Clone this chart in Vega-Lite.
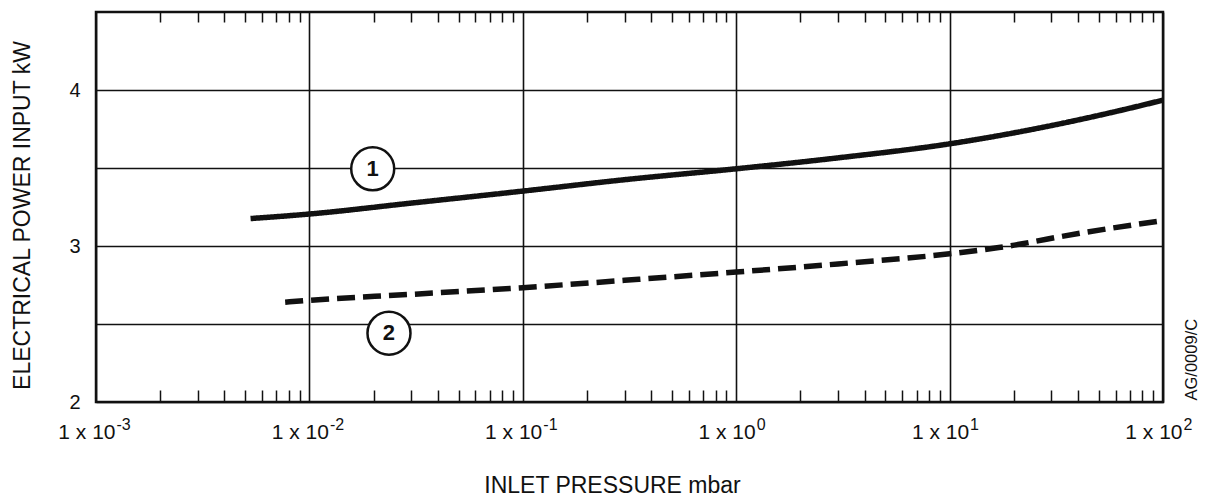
{
  "$schema": "https://vega.github.io/schema/vega-lite/v6.json",
  "width": 1067,
  "height": 390,
  "autosize": {"type": "none"},
  "padding": {"left": 96, "top": 12, "right": 47, "bottom": 98},
  "background": "white",
  "config": {
    "font": "Liberation Sans",
    "view": {"stroke": "#111", "strokeWidth": 2.5},
    "axis": {
      "labelColor": "#111",
      "titleColor": "#111",
      "gridColor": "#111",
      "gridOpacity": 1,
      "gridWidth": 1.6,
      "tickColor": "#111",
      "titleFontWeight": "normal",
      "labelFont": "Liberation Sans",
      "titleFont": "Liberation Sans"
    }
  },
  "datasets": {
    "curves": [
      {"series": "1", "x": 0.0053, "y": 3.176},
      {"series": "1", "x": 0.01, "y": 3.205},
      {"series": "1", "x": 0.03, "y": 3.275},
      {"series": "1", "x": 0.1, "y": 3.352},
      {"series": "1", "x": 0.3, "y": 3.425},
      {"series": "1", "x": 1, "y": 3.495},
      {"series": "1", "x": 3, "y": 3.565},
      {"series": "1", "x": 10, "y": 3.655},
      {"series": "1", "x": 30, "y": 3.772},
      {"series": "1", "x": 60, "y": 3.862},
      {"series": "1", "x": 100, "y": 3.935},
      {"series": "2", "x": 0.0077, "y": 2.64},
      {"series": "2", "x": 0.01, "y": 2.652},
      {"series": "2", "x": 0.03, "y": 2.69},
      {"series": "2", "x": 0.1, "y": 2.733},
      {"series": "2", "x": 0.3, "y": 2.78},
      {"series": "2", "x": 1, "y": 2.833},
      {"series": "2", "x": 3, "y": 2.885},
      {"series": "2", "x": 10, "y": 2.95},
      {"series": "2", "x": 17, "y": 2.99},
      {"series": "2", "x": 42, "y": 3.085},
      {"series": "2", "x": 100, "y": 3.163}
    ],
    "callouts": [
      {"label": "1", "x": 0.0198, "y": 3.495},
      {"label": "2", "x": 0.0236, "y": 2.441}
    ]
  },
  "resolve": {"axis": {"x": "independent", "y": "independent"}},
  "layer": [
    {
      "data": {"name": "curves"},
      "mark": {"type": "line", "strokeWidth": 5.5, "color": "#111", "interpolate": "monotone", "strokeCap": "butt"},
      "encoding": {
        "x": {
          "field": "x", "type": "quantitative",
          "scale": {"type": "log", "domain": [0.001, 100], "nice": false},
          "axis": {
            "orient": "bottom",
            "values": [0.001, 0.01, 0.1, 1, 10, 100],
            "grid": true,
            "ticks": false,
            "tickSize": 0,
            "domain": false,
            "labelExpr": "'1 x 10'",
            "labelAlign": "right",
            "labelOffset": 19,
            "labelFlush": false,
            "labelOverlap": false,
            "labelPadding": 36,
            "labelBaseline": "alphabetic",
            "labelFontSize": 21,
            "title": "INLET PRESSURE mbar",
            "titleFontSize": 23,
            "titleX": 516,
            "titleY": 90,
            "titleAlign": "center",
            "titleBaseline": "alphabetic"
          }
        },
        "y": {
          "field": "y", "type": "quantitative",
          "scale": {"domain": [2, 4.5], "nice": false, "zero": false},
          "axis": {
            "orient": "left",
            "values": [2, 2.5, 3, 3.5, 4],
            "grid": true,
            "ticks": false,
            "tickSize": 0,
            "domain": false,
            "labelExpr": "datum.value % 1 == 0 ? format(datum.value, 'd') : ''",
            "labelPadding": 16,
            "labelFontSize": 20,
            "title": "ELECTRICAL POWER INPUT kW",
            "titleFontSize": 23,
            "titleAngle": 270,
            "titleX": -74,
            "titleY": 203,
            "titleAlign": "center",
            "titleBaseline": "middle"
          }
        },
        "detail": {"field": "series"},
        "strokeDash": {
          "field": "series", "type": "nominal",
          "scale": {"domain": ["1", "2"], "range": [[1, 0], [18, 8]]},
          "legend": null
        }
      }
    },
    {
      "data": {"name": "curves"},
      "mark": {"type": "point", "opacity": 0},
      "encoding": {
        "x": {
          "field": "x", "type": "quantitative",
          "scale": {"type": "log", "domain": [0.001, 100], "nice": false},
          "axis": {
            "orient": "bottom",
            "values": [0.001, 0.01, 0.1, 1, 10, 100],
            "grid": false,
            "ticks": false,
            "tickSize": 0,
            "domain": false,
            "labelExpr": "['-3','-2','-1','0','1','2'][round(log(datum.value)/LN10)+3]",
            "labelAlign": "left",
            "labelOffset": 20,
            "labelFlush": false,
            "labelOverlap": false,
            "labelPadding": 27,
            "labelBaseline": "alphabetic",
            "labelFontSize": 16,
            "title": null
          }
        },
        "y": {
          "field": "y", "type": "quantitative",
          "scale": {"domain": [2, 4.5], "nice": false, "zero": false},
          "axis": {
            "orient": "right",
            "labels": false,
            "ticks": false,
            "domain": false,
            "grid": false,
            "title": "AG/0009/C",
            "titleFontSize": 16.5,
            "titleAngle": 270,
            "titleX": 28,
            "titleY": 388,
            "titleAlign": "left",
            "titleBaseline": "middle"
          }
        }
      }
    },
    {
      "data": {"name": "curves"},
      "mark": {"type": "point", "opacity": 0},
      "encoding": {
        "x": {
          "field": "x", "type": "quantitative",
          "scale": {"type": "log", "domain": [0.001, 100], "nice": false},
          "axis": {
            "orient": "bottom",
            "values": [0.002,0.003,0.004,0.005,0.006,0.007,0.008,0.009,0.02,0.03,0.04,0.05,0.06,0.07,0.08,0.09,0.2,0.3,0.4,0.5,0.6,0.7,0.8,0.9,2,3,4,5,6,7,8,9,20,30,40,50,60,70,80,90],
            "grid": false,
            "labels": false,
            "domain": false,
            "ticks": true,
            "tickSize": -12,
            "tickWidth": 1.5,
            "title": null
          }
        },
        "y": {
          "field": "y", "type": "quantitative",
          "scale": {"domain": [2, 4.5], "nice": false, "zero": false},
          "axis": null
        }
      }
    },
    {
      "data": {"name": "curves"},
      "mark": {"type": "point", "opacity": 0},
      "encoding": {
        "x": {
          "field": "x", "type": "quantitative",
          "scale": {"type": "log", "domain": [0.001, 100], "nice": false},
          "axis": {
            "orient": "top",
            "values": [0.002,0.003,0.004,0.005,0.006,0.007,0.008,0.009,0.02,0.03,0.04,0.05,0.06,0.07,0.08,0.09,0.2,0.3,0.4,0.5,0.6,0.7,0.8,0.9,2,3,4,5,6,7,8,9,20,30,40,50,60,70,80,90],
            "grid": false,
            "labels": false,
            "domain": false,
            "ticks": true,
            "tickSize": -10,
            "tickWidth": 1.5,
            "title": null
          }
        },
        "y": {
          "field": "y", "type": "quantitative",
          "scale": {"domain": [2, 4.5], "nice": false, "zero": false},
          "axis": null
        }
      }
    },
    {
      "data": {"name": "callouts"},
      "mark": {"type": "point", "shape": "circle", "size": 1850, "filled": true, "fill": "white", "stroke": "#111", "strokeWidth": 2.5, "opacity": 1},
      "encoding": {
        "x": {"field": "x", "type": "quantitative", "scale": {"type": "log", "domain": [0.001, 100], "nice": false}, "axis": null},
        "y": {"field": "y", "type": "quantitative", "scale": {"domain": [2, 4.5], "nice": false, "zero": false}, "axis": null}
      }
    },
    {
      "data": {"name": "callouts"},
      "mark": {"type": "text", "fontSize": 22, "fontWeight": "bold", "color": "#111", "align": "center", "baseline": "middle", "font": "Liberation Sans"},
      "encoding": {
        "x": {"field": "x", "type": "quantitative", "scale": {"type": "log", "domain": [0.001, 100], "nice": false}, "axis": null},
        "y": {"field": "y", "type": "quantitative", "scale": {"domain": [2, 4.5], "nice": false, "zero": false}, "axis": null},
        "text": {"field": "label"}
      }
    }
  ]
}
